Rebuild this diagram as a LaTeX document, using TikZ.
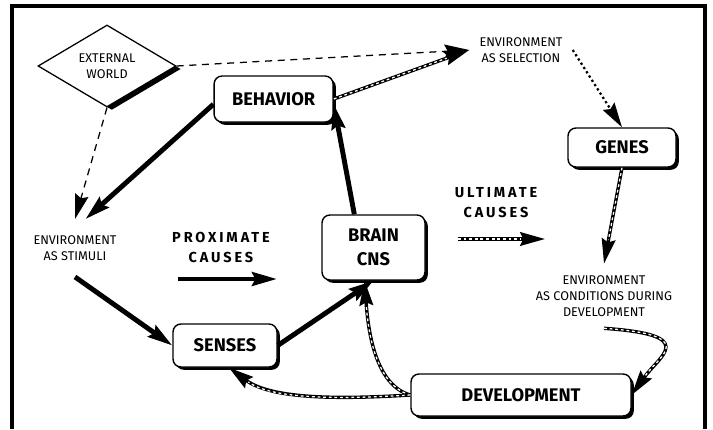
\documentclass[tikz,border=0pt]{standalone}
\usepackage{fontspec}
\setmainfont{Fira Sans}
\newfontfamily\spacedfont[LetterSpace=20]{Fira Sans}
\usetikzlibrary{arrows.meta,shapes.geometric,shadows}

\tikzset{
  box/.style={draw, line width=1pt, rounded corners=0.2cm, fill=white, inner sep=0pt, align=center,
    font=\fontsize{13}{17.5}\selectfont\bfseries,
    drop shadow={shadow xshift=0.07cm, shadow yshift=-0.07cm, fill=black, opacity=1}},
  envtext/.style={align=center, font=\fontsize{9}{11.6}\selectfont},
  causes/.style={align=center, font=\spacedfont\fontsize{10.3}{14.2}\selectfont\bfseries},
  head/.style={-{Stealth[length=0.62cm, width=0.34cm, inset=0.08cm]}},
  thick arrow/.style={head, line width=3.5pt},
  dash arrow/.style={head, line width=0.9pt, dash pattern=on 5pt off 4pt},
  dot arrow/.style={head, line width=1.6pt, dash pattern=on 1.6pt off 2pt},
  hatch arrow/.style={head, line width=2.4pt,
    postaction={draw=white, -, line width=0.9pt, dash pattern=on 2pt off 2pt, shorten >=0.6cm}},
}

\begin{document}
\begin{tikzpicture}
\useasboundingbox (0,0) rectangle (17.825,10.725);
\draw[line width=2.6pt] (0.3,0) -- (0.3,10.575) -- (17.625,10.575) -- (17.625,0);

\node[diamond, draw, line width=0.9pt, fill=white, minimum width=3.45cm, minimum height=2.05cm, inner sep=0pt, envtext,
  drop shadow={shadow xshift=0.12cm, shadow yshift=-0.075cm, fill=black, opacity=1}] (world) at (2.675,9.075) {EXTERNAL\\WORLD};

\node[box, minimum width=2.975cm, minimum height=1.15cm] (behavior) at (6.84,8.25) {BEHAVIOR};
\node[box, minimum width=2.7cm, minimum height=0.975cm] (genes) at (15.55,7.0375) {GENES};
\node[box, minimum width=2.575cm, minimum height=1.625cm] (brain) at (9.3375,4.5375) {BRAIN\\CNS};
\node[box, minimum width=2.6cm, minimum height=1.075cm] (senses) at (5.625,2.0875) {SENSES};
\node[box, minimum width=5.5cm, minimum height=1.05cm] (development) at (13.025,0.85) {DEVELOPMENT};

\node[envtext, inner sep=0.25cm] (selection) at (13.025,9.475) {ENVIRONMENT\\AS SELECTION};
\node[envtext, inner sep=0.4cm] (stimuli) at (1.875,4.525) {ENVIRONMENT\\AS STIMULI};
\node[envtext, inner sep=0.28cm] (conditions) at (15.1,3.325) {ENVIRONMENT\\AS CONDITIONS DURING\\DEVELOPMENT};
\node[causes] (proximate) at (5.525,4.55) {PROXIMATE\\CAUSES};
\node[causes] (ultimate) at (12.4,5.65) {ULTIMATE\\CAUSES};

\coordinate (prox a) at (4.45,3.75);
\coordinate (prox b) at (6.925,3.75);
\coordinate (ult a) at (11.45,4.75);
\coordinate (ult b) at (13.625,4.75);

\draw[dash arrow] (world.south) -- (stimuli.north);
\draw[dash arrow] (world.east) -- (selection.west);
\draw[thick arrow] (behavior.185) -- (stimuli.70);
\draw[thick arrow] (brain.120) -- (behavior.-5);
\draw[hatch arrow] (behavior.east) -- (selection.west);
\draw[dot arrow] (selection.east) -- (genes.north);
\draw[hatch arrow] (genes.south) -- (conditions.north);
\draw[thick arrow] (prox a) -- (prox b);
\draw[hatch arrow] (ult a) -- (ult b);
\draw[thick arrow] (stimuli.south) -- (senses.west);
\draw[thick arrow] (senses.east) -- (brain.south);
\draw[hatch arrow] (conditions.south) .. controls (17.5,2.35) and (16.5,1.85) .. (development.east);
\draw[hatch arrow] (development.west) .. controls (9.375,1.1) and (9.2,2.475) .. (brain.255);
\draw[hatch arrow] (development.west) .. controls (8.25,0.725) and (6.75,0.775) .. (senses.-80);
\end{tikzpicture}
\end{document}
